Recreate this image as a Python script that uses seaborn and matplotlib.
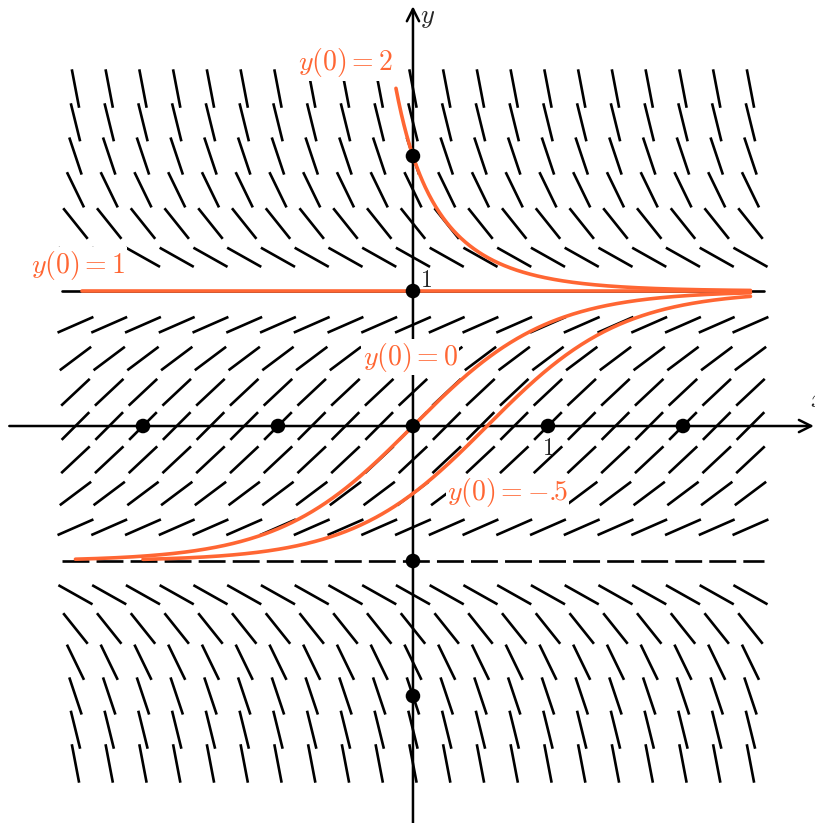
import numpy as np
import pandas as pd
import matplotlib
matplotlib.use("Agg")
import matplotlib.pyplot as plt
import seaborn as sns
from matplotlib.collections import LineCollection

sns.set_style("white")
plt.rcParams["mathtext.fontset"] = "cm"

ORANGE = "#ff6633"

# slope field grid for dy/dx = 1 - y^2 (rows y = +-1 are drawn as lines)
grid_x = np.arange(-2.5, 2.51, 0.25)
grid_y = [v for v in np.arange(-2.5, 2.51, 0.25) if abs(abs(v) - 1) > 1e-9]
seg_len = 0.29

# solution curves: initial value y(0) and x-range drawn
ic_y0 = [2.0, 1.0, 0.0, -0.5]
ic_xstart = [-0.126, -2.45, -2.5, -2.0]
ic_xend = [2.5, 2.5, 2.5, 2.5]

# labels of the curves
label_text = ["$y(0)=2$", "$y(0)=1$", "$y(0)=0$", r"$y(0)=-.\!\!5$"]
label_x = [-0.5, -2.48, -0.02, 0.70]
label_y = [2.69, 1.19, 0.51, -0.49]

# marked points
dot_x = [0, 0, 0, 0, 0, -2, -1, 1, 2]
dot_y = [2, 1, 0, -1, -2, 0, 0, 0, 0]


def slope(x, y):
    return 1 - y ** 2


def solution(y0, x):
    if y0 == 1:
        return np.ones_like(x)
    if abs(y0) < 1:
        return np.tanh(x + np.arctanh(y0))
    return 1 / np.tanh(x + np.arctanh(1 / y0))


fig = plt.figure(figsize=(8.15, 8.23), dpi=100)
ax = fig.add_axes([0, 0, 1, 1])
ax.set_xlim(-3.059, 2.978)
ax.set_ylim(-2.941, 3.156)
ax.axis("off")

# slope segments
segs = []
for yv in grid_y:
    for xv in grid_x:
        m = slope(xv, yv)
        d = seg_len / 2 / np.sqrt(1 + m ** 2)
        segs.append([(xv - d, yv - m * d), (xv + d, yv + m * d)])
ax.add_collection(LineCollection(segs, colors="black", linewidths=1.9, zorder=1))

# equilibrium lines
ax.plot([-2.6, 2.6], [1, 1], color="black", lw=1.9, zorder=1)
ax.plot([-2.6, 2.6], [-1, -1], color="black", lw=1.9, dashes=(10.2, 2.7), zorder=1)

# axes with arrows
arrow = dict(arrowstyle="->", lw=1.8, color="black", mutation_scale=22,
             shrinkA=0, shrinkB=0)
ax.annotate("", xy=(2.97, 0), xytext=(-2.99, 0), arrowprops=arrow,
            annotation_clip=False, zorder=2)
ax.annotate("", xy=(0, 3.11), xytext=(0, -2.95), arrowprops=arrow,
            annotation_clip=False, zorder=2)
ax.text(0.05, 3.03, "$y$", fontsize=19, ha="left", va="center")
ax.text(2.94, 0.19, "$x$", fontsize=19, ha="left", va="center")
ax.text(0.05, 1.08, "$1$", fontsize=17, ha="left", va="center")
ax.text(1.0, -0.16, "$1$", fontsize=17, ha="center", va="center")

# marked points (under the curves)
sns.scatterplot(x=dot_x, y=dot_y, ax=ax, color="black", s=110,
                edgecolor="none", zorder=3)

# solution curves
for y0, xs, xe in zip(ic_y0, ic_xstart, ic_xend):
    xx = np.linspace(xs, xe, 400)
    df = pd.DataFrame({"x": xx, "y": solution(y0, xx)})
    sns.lineplot(data=df, x="x", y="y", ax=ax, color=ORANGE, lw=2.6,
                 sort=False, zorder=2.5)

for t, lx, ly in zip(label_text, label_x, label_y):
    ax.text(lx, ly, t, fontsize=20, color=ORANGE, ha="center", va="center",
            zorder=5, bbox=dict(facecolor="white", edgecolor="none", pad=1))

ax.set_xlim(-3.059, 2.978)
ax.set_ylim(-2.941, 3.156)
ax.axis("off")
fig.savefig("out.png", dpi=100)
